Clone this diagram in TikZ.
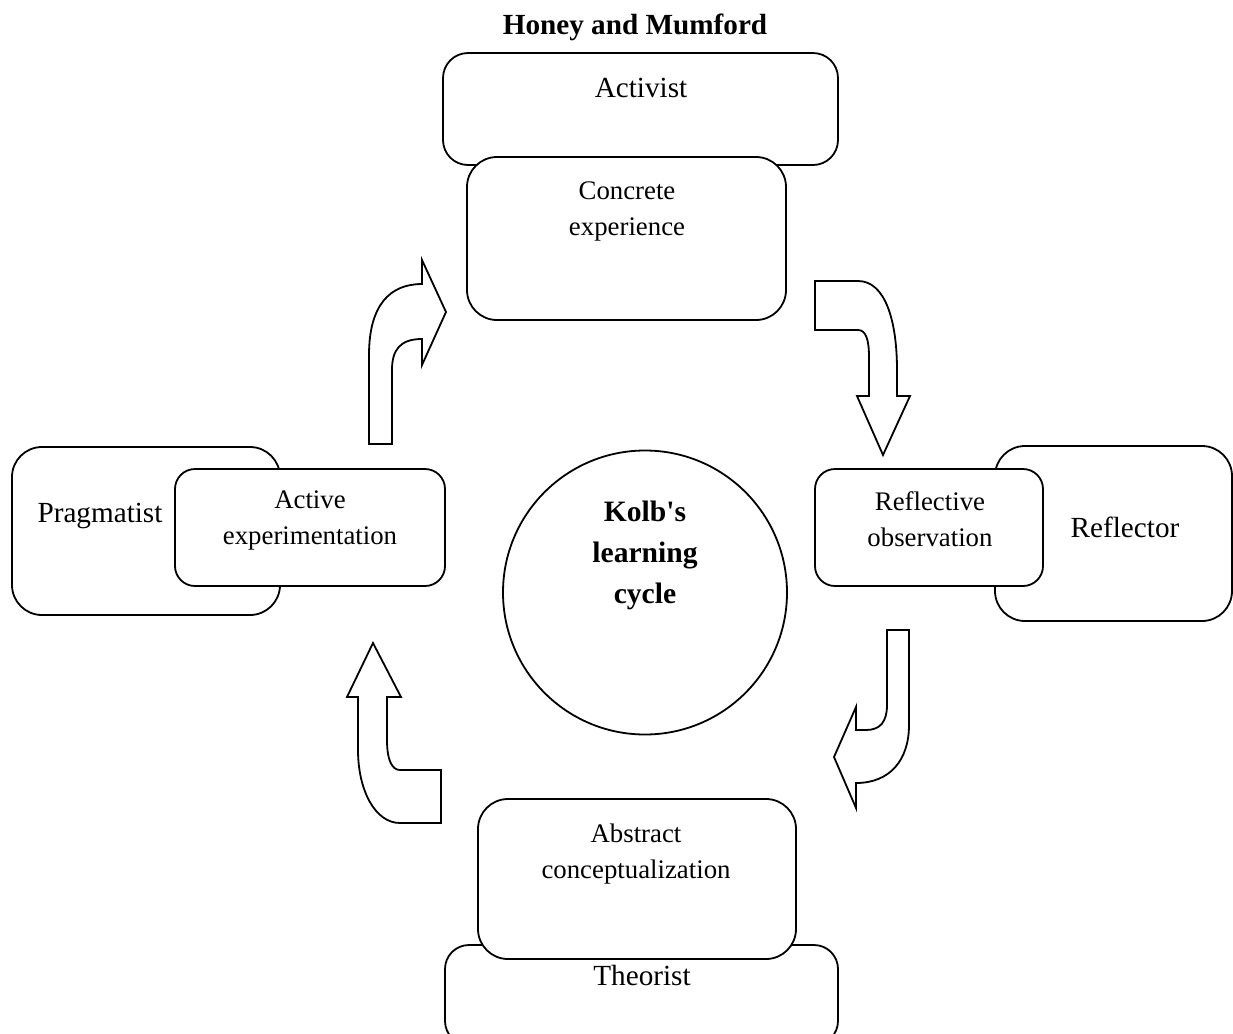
\documentclass[tikz,border=0pt]{standalone}
\usepackage{fontspec}
\setmainfont{Liberation Serif}
\begin{document}
\begin{tikzpicture}[x=0.5pt,y=-0.5pt,
  box/.style={draw,fill=white,line width=0.9pt,inner sep=0pt},
  bigtxt/.style={font=\fontsize{14.6}{17}\selectfont,inner sep=0pt},
  smalltxt/.style={font=\fontsize{13.4}{18}\selectfont,align=center,inner sep=0pt},
  kolbtxt/.style={font=\fontsize{14.8}{20.5}\selectfont\bfseries,align=center,inner sep=0pt},
  bentarrow/.style={draw,fill=white,line width=0.9pt,line join=miter}]
\clip (0,0) rectangle (1233,1034);
% Honey and Mumford title
\node[bigtxt,font=\fontsize{14.6}{17}\selectfont\bfseries] (title) at (635,27) {Honey and Mumford};
% top pair
\node[box,rounded corners=12.5pt,minimum width=197.5pt,minimum height=56pt] (activist) at (640.5,109) {};
\node[box,rounded corners=15pt,minimum width=159.5pt,minimum height=81.5pt] (concrete) at (626.5,238.5) {};
\node[bigtxt] (activistT) at (641,88) {Activist};
\node[smalltxt] (concreteT) at (627,211) {Concrete\\experience};
% left pair
\node[box,rounded corners=15pt,minimum width=134pt,minimum height=84pt] (pragmatist) at (146,531) {};
\node[box,rounded corners=10pt,minimum width=135pt,minimum height=58.5pt] (active) at (310,527.5) {};
\node[bigtxt] (pragmatistT) at (100,516) {Pragmatist};
\node[smalltxt] (activeT) at (310,520) {Active\\experimentation};
% right pair
\node[box,rounded corners=15pt,minimum width=118.5pt,minimum height=87.5pt] (reflector) at (1113.5,533.5) {};
\node[box,rounded corners=10pt,minimum width=114pt,minimum height=58.5pt] (reflective) at (929,527.5) {};
\node[bigtxt] (reflectorT) at (1125,527) {Reflector};
\node[smalltxt] (reflectiveT) at (930,519) {Reflective\\observation};
% bottom pair
\node[box,rounded corners=12pt,minimum width=196.5pt,minimum height=50pt] (theorist) at (641.5,995) {};
\node[box,rounded corners=15pt,minimum width=159pt,minimum height=80pt] (abstract) at (637,879) {};
\node[bigtxt] (theoristT) at (642,976) {Theorist};
\node[smalltxt] (abstractT) at (636,854) {Abstract\\conceptualization};
% centre circle
\node[box,circle,minimum size=142pt] (kolb) at (645,592.5) {};
\node[kolbtxt] (kolbT) at (645,555) {Kolb\textquotesingle s\\learning\\cycle};
% arrow: active -> concrete (up, then right)
\draw[bentarrow] (369,444) -- (392,444) -- (392,370)
  .. controls (392,350) and (400,339) .. (422,339)
  -- (422,365) -- (446,312) -- (422,260) -- (422,284)
  .. controls (390,284) and (369,305) .. (369,355) -- cycle;
% arrow: concrete -> reflective (right, then down)
\draw[bentarrow] (815,281) -- (858,281)
  .. controls (885,281) and (897,320) .. (897,370)
  -- (897,396) -- (910,396) -- (883,455) -- (857,396) -- (869,396) -- (869,357)
  .. controls (869,340) and (866,330) .. (858,330) -- (815,330) -- cycle;
% arrow: reflective -> abstract (down, then left)
\draw[bentarrow] (887,630) -- (909,630) -- (909,725)
  .. controls (909,760) and (890,783) .. (856,783)
  -- (856,808) -- (834,757) -- (856,707) -- (856,730) -- (866,730)
  .. controls (880,730) and (887,722) .. (887,705) -- cycle;
% arrow: abstract -> active (left, then up)
\draw[bentarrow] (441,770) -- (441,823) -- (400,823)
  .. controls (375,823) and (358,790) .. (358,750)
  -- (358,697) -- (347,697) -- (373,643) -- (401,697) -- (387,697) -- (387,740)
  .. controls (387,760) and (392,770) .. (400,770) -- cycle;
\end{tikzpicture}
\end{document}
